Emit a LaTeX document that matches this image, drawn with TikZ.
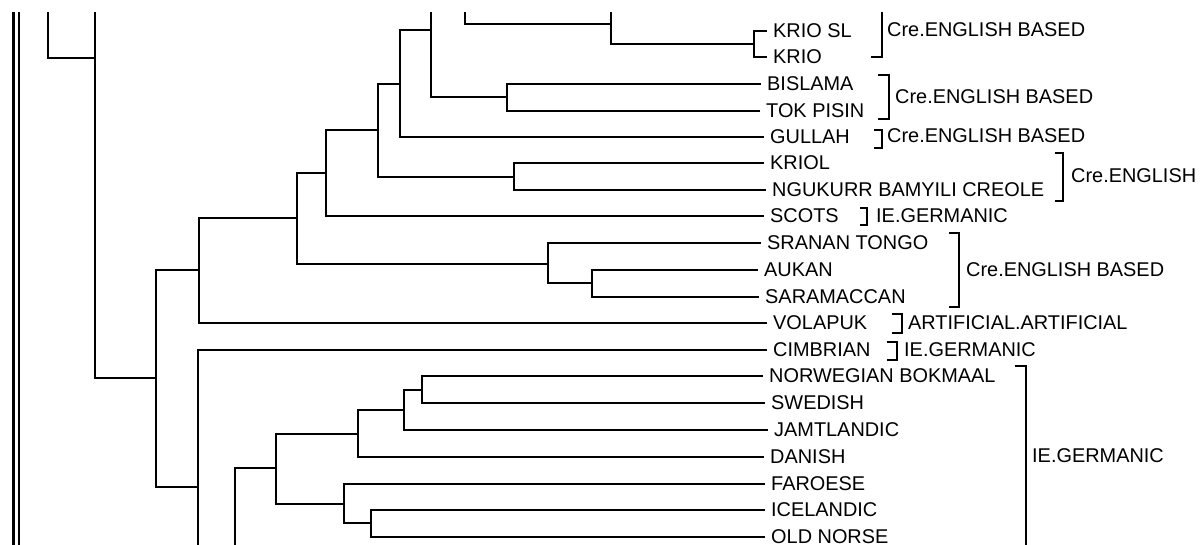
\documentclass[tikz,border=0pt]{standalone}
\usepackage{fontspec}
\setmainfont{Liberation Sans}
\begin{document}
\begin{tikzpicture}[x=1pt,y=-1pt,
  edge/.style={line width=2pt},
  brk/.style={line width=2pt},
  lbl/.style={font=\fontsize{19.9}{22}\selectfont, inner ysep=0pt},
  leaf/.style={lbl, anchor=west, inner xsep=6pt},
  grp/.style={lbl, anchor=west, inner xsep=0pt}]
\useasboundingbox (0,0) rectangle (1204,544);
\begin{scope}
\clip (0,12) rectangle (1204,544);

% frame rules on the left
\draw[line width=3.4pt] (13.3,0) -- (13.3,560);
\draw[line width=2pt] (18.5,0) -- (18.5,560);

% leaves
\node[leaf] (kriosl)   at (767,31)  {KRIO SL};
\node[leaf] (krio)     at (767,57)  {KRIO};
\node[leaf] (bislama)  at (761,84)  {BISLAMA};
\node[leaf] (tokpisin) at (760,111) {TOK PISIN};
\node[leaf] (gullah)   at (764,137) {GULLAH};
\node[leaf] (kriol)    at (764,163) {KRIOL};
\node[leaf] (ngukurr)  at (766,190) {NGUKURR BAMYILI CREOLE};
\node[leaf] (scots)    at (764,216) {SCOTS};
\node[leaf] (sranan)   at (761,243) {SRANAN TONGO};
\node[leaf] (aukan)    at (758,270) {AUKAN};
\node[leaf] (saram)    at (759,297) {SARAMACCAN};
\node[leaf] (volapuk)  at (767,323) {VOLAPUK};
\node[leaf] (cimbrian) at (767,350) {CIMBRIAN};
\node[leaf] (norweg)   at (763,376) {NORWEGIAN BOKMAAL};
\node[leaf] (swedish)  at (765,403) {SWEDISH};
\node[leaf] (jamt)     at (768,430) {JAMTLANDIC};
\node[leaf] (danish)   at (764,457) {DANISH};
\node[leaf] (faroese)  at (765,484) {FAROESE};
\node[leaf] (iceland)  at (765,510) {ICELANDIC};
\node[leaf] (oldnorse) at (765,537) {OLD NORSE};

% internal nodes
\coordinate (n48)  at (48,-200);
\coordinate (n95)  at (95,58);
\coordinate (u95)  at (95,-262);
\coordinate (n156) at (156,378);
\coordinate (n199) at (199,270);
\coordinate (nA)   at (297,218);
\coordinate (nB)   at (326,173);
\coordinate (nC)   at (378,130);
\coordinate (nD)   at (400,84);
\coordinate (nE)   at (431,30);
\coordinate (n465) at (465,-37);
\coordinate (u465) at (465,-98);
\coordinate (n611) at (611,24);
\coordinate (u611) at (611,4);
\coordinate (nKR)  at (754,44);
\coordinate (nBT)  at (507,97);
\coordinate (nKL)  at (514,177);
\coordinate (nSR)  at (548,264);
\coordinate (nAU)  at (592,283);
\coordinate (n198) at (198,487);
\coordinate (n235) at (235,624);
\coordinate (n276) at (276,468);
\coordinate (n358) at (358,434);
\coordinate (n404) at (404,410);
\coordinate (n422) at (422,390);
\coordinate (n344) at (344,504);
\coordinate (n371) at (371,523);

% branches
\draw[edge] (n48) |- (n95);
\draw[edge] (n95) -- (u95);
\draw[edge] (n95) |- (n156);
\draw[edge] (n156) |- (n199);
\draw[edge] (n156) |- (n198);
\draw[edge] (n199) |- (nA);
\draw[edge] (n199) |- (volapuk.west);
\draw[edge] (nA) |- (nB);
\draw[edge] (nA) |- (nSR);
\draw[edge] (nB) |- (nC);
\draw[edge] (nB) |- (scots.west);
\draw[edge] (nC) |- (nD);
\draw[edge] (nC) |- (nKL);
\draw[edge] (nD) |- (nE);
\draw[edge] (nD) |- (gullah.west);
\draw[edge] (nE) |- (n465);
\draw[edge] (nE) |- (nBT);
\draw[edge] (n465) -- (u465);
\draw[edge] (n465) |- (n611);
\draw[edge] (n611) -- (u611);
\draw[edge] (n611) |- (nKR);
\draw[edge] (nKR) |- (kriosl.west);
\draw[edge] (nKR) |- (krio.west);
\draw[edge] (nBT) |- (bislama.west);
\draw[edge] (nBT) |- (tokpisin.west);
\draw[edge] (nKL) |- (kriol.west);
\draw[edge] (nKL) |- (ngukurr.west);
\draw[edge] (nSR) |- (sranan.west);
\draw[edge] (nSR) |- (nAU);
\draw[edge] (nAU) |- (aukan.west);
\draw[edge] (nAU) |- (saram.west);
\draw[edge] (n198) |- (cimbrian.west);
\draw[edge] (n198) |- (n235);
\draw[edge] (n235) |- (n276);
\draw[edge] (n276) |- (n358);
\draw[edge] (n276) |- (n344);
\draw[edge] (n358) |- (n404);
\draw[edge] (n358) |- (danish.west);
\draw[edge] (n404) |- (n422);
\draw[edge] (n404) |- (jamt.west);
\draw[edge] (n422) |- (norweg.west);
\draw[edge] (n422) |- (swedish.west);
\draw[edge] (n344) |- (faroese.west);
\draw[edge] (n344) |- (n371);
\draw[edge] (n371) |- (iceland.west);
\draw[edge] (n371) |- (oldnorse.west);

% group brackets and their labels
\draw[brk] (871,2) -- (882,2) -- (882,57) -- (871,57);
\node[grp] (g1) at (887,30) {Cre.ENGLISH BASED};
\draw[brk] (878,75) -- (889,75) -- (889,119) -- (878,119);
\node[grp] (g2) at (895,97) {Cre.ENGLISH BASED};
\draw[brk] (874,130) -- (882,130) -- (882,148) -- (874,148);
\node[grp] (g3) at (887,136) {Cre.ENGLISH BASED};
\draw[brk] (1055,153) -- (1063,153) -- (1063,201) -- (1055,201);
\node[grp] (g4) at (1071,176) {Cre.ENGLISH};
\draw[brk] (860,208) -- (867,208) -- (867,225) -- (860,225);
\node[grp] (g5) at (876,216) {IE.GERMANIC};
\draw[brk] (949,233) -- (959,233) -- (959,307) -- (949,307);
\node[grp] (g6) at (966,270) {Cre.ENGLISH BASED};
\draw[brk] (892,314) -- (902,314) -- (902,333) -- (892,333);
\node[grp] (g7) at (908,323) {ARTIFICIAL.ARTIFICIAL};
\draw[brk] (887,342) -- (897,342) -- (897,360) -- (887,360);
\node[grp] (g8) at (904,350) {IE.GERMANIC};
\draw[brk] (1015,366) -- (1026,366) -- (1026,547) -- (1015,547);
\node[grp] (g9) at (1032,456) {IE.GERMANIC};
\end{scope}
\end{tikzpicture}
\end{document}
